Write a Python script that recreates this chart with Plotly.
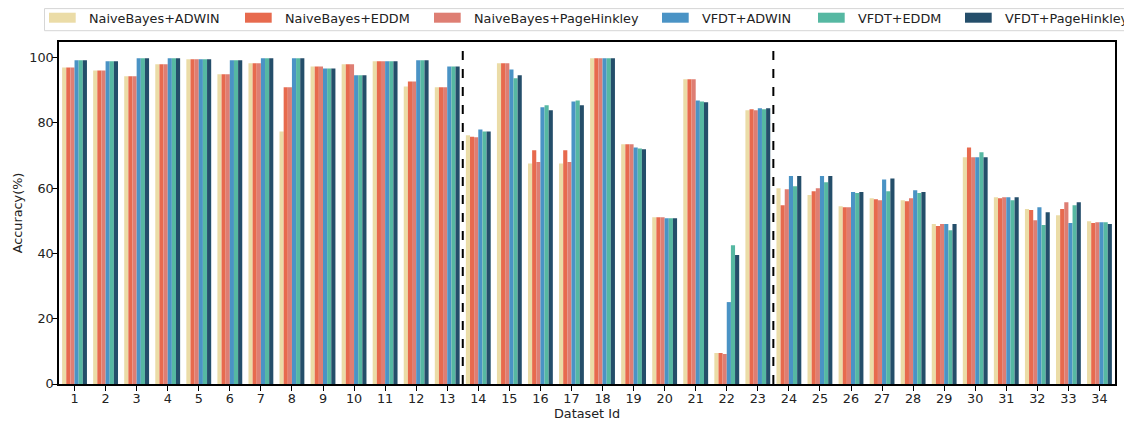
import plotly.graph_objects as go

datasets = [str(i) for i in range(1, 35)]
series_names = ["NaiveBayes+ADWIN", "NaiveBayes+EDDM", "NaiveBayes+PageHinkley",
                "VFDT+ADWIN", "VFDT+EDDM", "VFDT+PageHinkley"]
colors = ["#EBDCA7", "#E76A4E", "#DE7E73", "#4A93C5", "#56B8A2", "#244E6A"]

nb_adwin = [97.0, 96.1, 94.3, 98.0, 99.5, 94.9, 98.3, 77.4, 97.3, 98.0, 98.9, 91.2, 90.9,
            76.2, 98.3, 67.6, 67.6, 99.8, 73.5, 51.1, 93.4, 9.5, 83.9,
            60.0, 57.9, 54.5, 56.9, 56.3, 49.0, 69.5, 57.2, 53.6, 51.7, 49.9]
nb_eddm = [97.0, 96.1, 94.3, 98.0, 99.5, 94.9, 98.3, 90.9, 97.3, 98.0, 98.9, 92.7, 90.9,
           75.8, 98.3, 71.6, 71.6, 99.8, 73.5, 51.1, 93.4, 9.5, 84.2,
           54.8, 59.1, 54.2, 56.6, 56.0, 48.4, 72.5, 56.9, 53.3, 53.6, 49.3]
nb_ph = [97.0, 96.1, 94.3, 98.0, 99.5, 94.9, 98.3, 90.9, 97.3, 98.0, 98.9, 92.7, 90.9,
         75.6, 98.3, 68.0, 68.0, 99.8, 73.5, 51.1, 93.4, 9.2, 83.9,
         59.7, 60.0, 54.2, 56.3, 56.9, 49.0, 69.5, 57.2, 50.2, 55.7, 49.6]
vfdt_adwin = [99.2, 98.9, 99.8, 99.8, 99.5, 99.2, 99.8, 99.8, 96.7, 94.6, 98.9, 99.2, 97.3,
              78.0, 96.4, 84.8, 86.6, 99.8, 72.5, 50.8, 86.9, 25.1, 84.5,
              63.7, 63.7, 58.8, 62.7, 59.4, 49.0, 69.5, 57.2, 54.2, 49.3, 49.6]
vfdt_eddm = [99.2, 98.9, 99.8, 99.8, 99.5, 99.2, 99.8, 99.8, 96.7, 94.6, 98.9, 99.2, 97.3,
             77.4, 93.7, 85.4, 86.9, 99.8, 72.2, 50.8, 86.6, 42.5, 84.2,
             60.6, 61.8, 58.5, 59.1, 58.5, 47.1, 71.0, 56.3, 48.7, 54.8, 49.6]
vfdt_ph = [99.2, 98.9, 99.8, 99.8, 99.5, 99.2, 99.8, 99.8, 96.7, 94.6, 98.9, 99.2, 97.3,
           77.4, 94.6, 83.9, 85.4, 99.8, 71.9, 50.8, 86.3, 39.5, 84.5,
           63.7, 63.7, 58.8, 63.0, 58.8, 49.0, 69.5, 57.2, 52.6, 55.7, 49.0]
series_values = [nb_adwin, nb_eddm, nb_ph, vfdt_adwin, vfdt_eddm, vfdt_ph]
separators = [12.5, 22.5]  # between dataset 13|14 and 23|24

FONT = "DejaVu Sans"
FS = 12.8
OFF = 8  # page body margin offsets the figure by 8px
W, H = 1124, 413
ML, MR, MT, MB = 51, 17, 34, 37
PW, PH = W - ML - MR, H - MT - MB

def px_x(p):  # screen pixel -> paper x
    return (p - OFF - ML) / PW

def px_y(p):  # screen pixel -> paper y
    return (H - MB - (p - OFF)) / PH

x_idx = list(range(len(datasets)))

fig = go.Figure()
for name, vals, col in zip(series_names, series_values, colors):
    fig.add_trace(go.Bar(x=x_idx, y=vals, name=name, showlegend=False,
                         marker=dict(color=col, line=dict(width=0))))

for s in separators:
    fig.add_shape(type="line", x0=s, x1=s, y0=0, y1=1, xref="x", yref="paper",
                  line=dict(color="black", width=2, dash="dash"))

# custom legend (matplotlib-like, above the axes)
fig.add_shape(type="rect", xref="paper", yref="paper",
              x0=px_x(44.5), x1=px_x(1128), y0=px_y(30.7), y1=px_y(8.6),
              line=dict(color="#d6d6d6", width=1), fillcolor="white")
legend_px = [49, 245, 434, 662, 818, 965]
for lx, name, col in zip(legend_px, series_names, colors):
    fig.add_shape(type="rect", xref="paper", yref="paper",
                  x0=px_x(lx), x1=px_x(lx + 26.7), y0=px_y(22.7), y1=px_y(12.7),
                  line=dict(width=0), fillcolor=col)
    fig.add_annotation(xref="paper", yref="paper", x=px_x(lx + 37.5), y=px_y(18.2),
                       xanchor="left", yanchor="middle", showarrow=False,
                       text=name, font=dict(family=FONT, size=FS, color="#222"))

fig.update_layout(
    width=W, height=H,
    margin=dict(l=ML, r=MR, t=MT, b=MB),
    paper_bgcolor="white", plot_bgcolor="white",
    font=dict(family=FONT, size=FS, color="#222"),
    barmode="group", bargap=0.2, bargroupgap=0,
    showlegend=False,
    xaxis=dict(range=[-0.5, 33.5], tickmode="array", tickvals=x_idx, ticktext=datasets,
               showline=True, linecolor="black", linewidth=1.5, mirror=True,
               ticks="outside", ticklen=5, tickcolor="black", showgrid=False, zeroline=False,
               automargin=False, ticklabelstandoff=-3,
               title=dict(text="Dataset Id", standoff=1, font=dict(size=FS)),
               tickfont=dict(size=FS)),
    yaxis=dict(range=[0, 104.8], tickvals=[0, 20, 40, 60, 80, 100],
               showline=True, linecolor="black", linewidth=1.5, mirror=True,
               ticks="outside", ticklen=5, tickcolor="black", showgrid=False, zeroline=False,
               automargin=False, ticklabelstandoff=-4,
               title=dict(text="Accuracy(%)", standoff=4, font=dict(size=FS)),
               tickfont=dict(size=FS)),
)

fig.write_html("out.html")
